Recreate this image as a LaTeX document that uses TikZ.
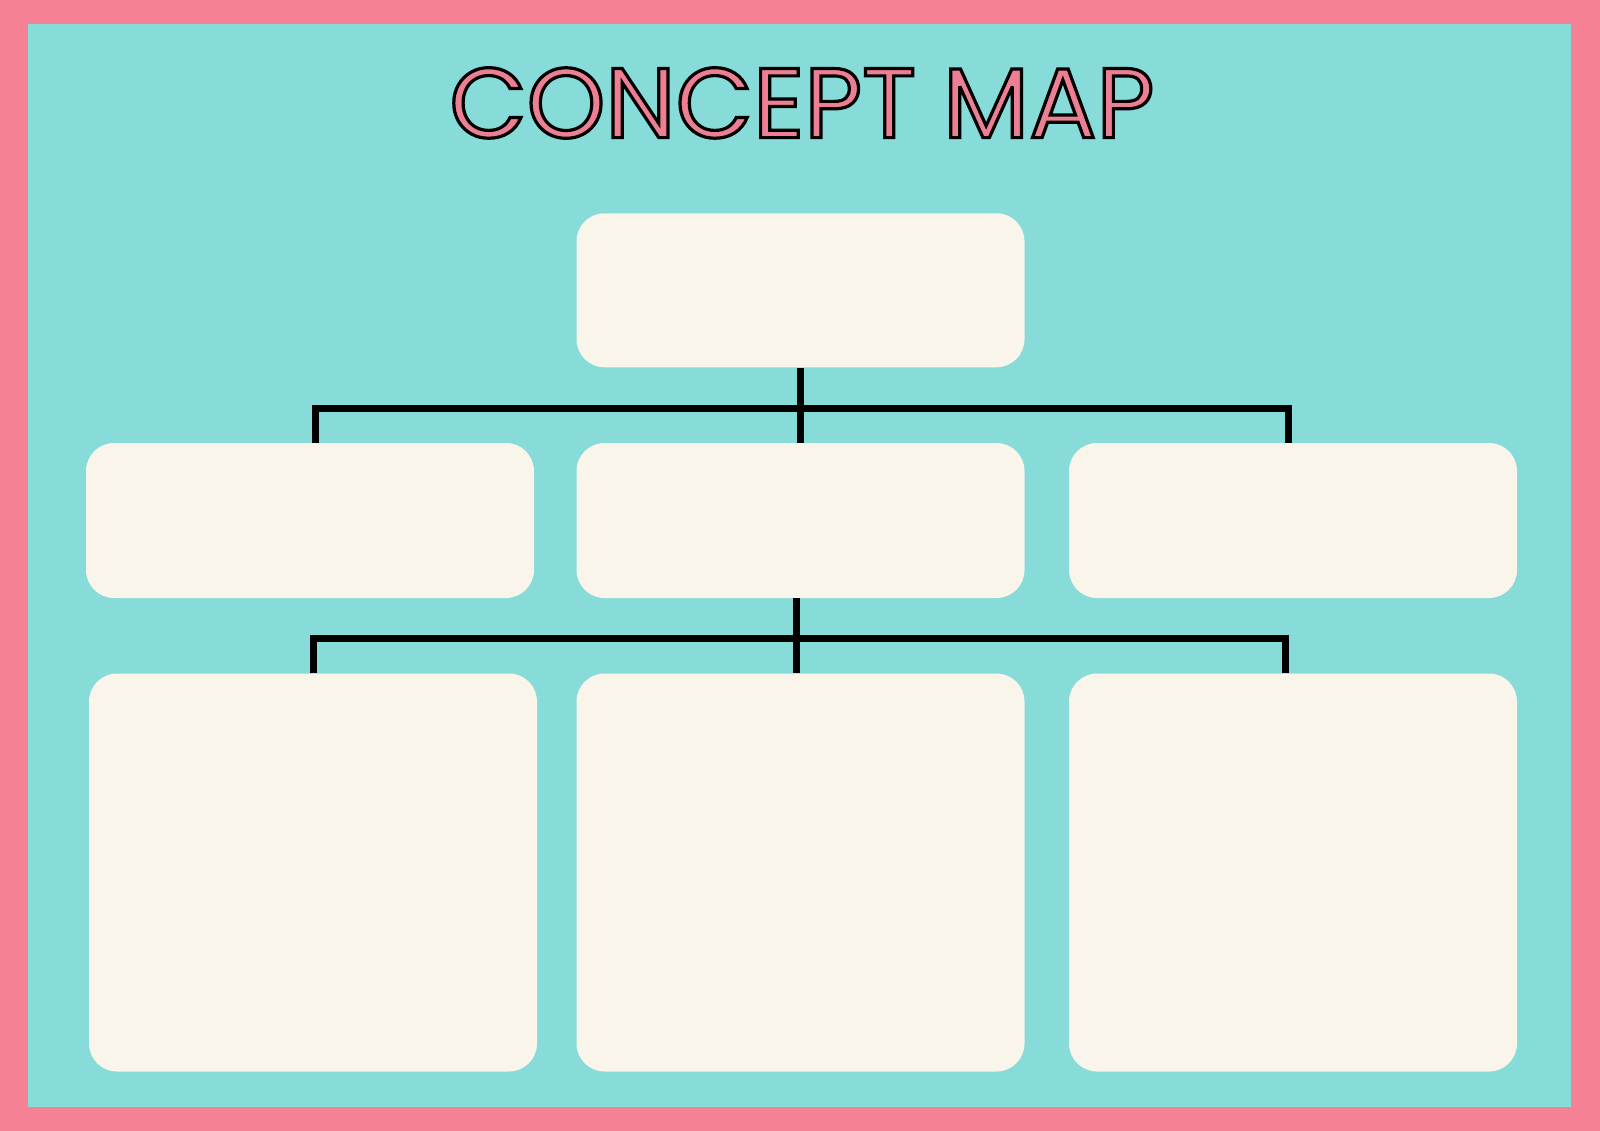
\documentclass[tikz,border=0pt]{standalone}
\usepackage{fontspec}
\newfontfamily\titlefont{Poppins}
\usetikzlibrary{calc}
\definecolor{borderpink}{RGB}{246,128,150}
\definecolor{bgcyan}{RGB}{135,219,217}
\definecolor{boxcream}{RGB}{249,245,235}
\definecolor{titlepink}{RGB}{238,126,148}
\tikzset{
  conceptbox/.style={fill=boxcream, draw=none, rounded corners=28pt, inner sep=0pt, minimum width=448pt},
  rowtop/.style={conceptbox, minimum height=154pt},
  rowmid/.style={conceptbox, minimum height=155pt},
  rowbot/.style={conceptbox, minimum height=398pt},
  conn/.style={draw=black, line width=7pt, line join=miter}
}
\begin{document}
\begin{tikzpicture}[x=1pt,y=-1pt]
\useasboundingbox (0,0) rectangle (1600,1131);
\fill[borderpink] (0,0) rectangle (1600,1131);
\fill[bgcyan] (28,24) rectangle (1571,1107);

\node[rowtop] (top) at (800.5,290.3) {};
\node[rowmid] (midL) at (310,520.5) {};
\node[rowmid] (midC) at (800.5,520.5) {};
\node[rowmid] (midR) at (1293,520.5) {};
\node[rowbot] (botL) at (313,872.5) {};
\node[rowbot] (botC) at (800.5,872.5) {};
\node[rowbot] (botR) at (1293,872.5) {};

\coordinate (bar1) at (800,408);
\coordinate (bar2) at (796,638.5);
\draw[conn] ($(top.south)+(-0.5,0)$) -- ($(midC.north)+(-0.5,0)$);
\draw[conn] ($(midL.north)+(5.5,0)$) |- (bar1) -| ($(midR.north)+(-4.5,0)$);
\draw[conn] ($(midC.south)+(-4.5,0)$) -- ($(botC.north)+(-4.5,0)$);
\draw[conn] (botL.north) |- (bar2) -| ($(botR.north)+(-7.5,0)$);

\node[inner sep=0pt] (title) at (802,103) {\resizebox{705pt}{70pt}{\titlefont\fontsize{100pt}{100pt}\selectfont\color{titlepink}\special{pdf:literal direct 0 0 0 RG 2 Tr 3.2 w 0 j 4 M}CONCEPT MAP\special{pdf:literal direct 0 Tr}}};
\end{tikzpicture}
\end{document}
